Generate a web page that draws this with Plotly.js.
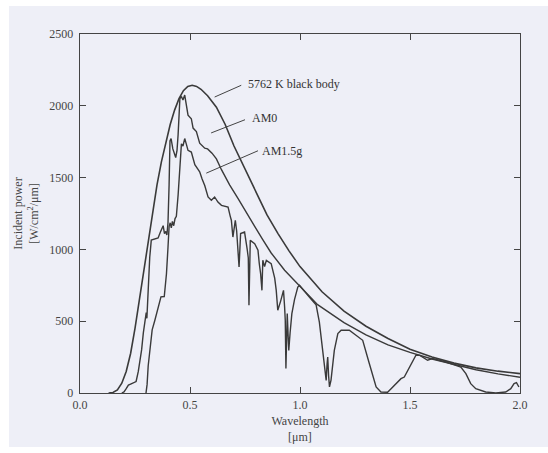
<!DOCTYPE html>
<html>
<head>
<meta charset="utf-8">
<script src="https://cdn.plot.ly/plotly-3.0.1.min.js"></script>
<style>
  html, body { margin: 0; padding: 0; background: #ffffff; width: 548px; height: 453px; overflow: hidden; }
  #chart { position: absolute; left: 9px; top: 6px; width: 539px; height: 441px; }
</style>
</head>
<body>
<div id="chart"></div>
<script>
// ---- Data ----
// 5762 K black body
const bbWavelength = [0.13,0.15,0.17,0.19,0.21,0.23,0.25,0.27,0.29,0.31,0.33,0.35,0.37,0.39,0.41,0.43,0.45,0.47,0.49,0.51,0.53,0.55,0.58,0.62,0.66,0.70,0.75,0.80,0.85,0.90,0.95,1.00,1.10,1.20,1.30,1.40,1.50,1.60,1.70,1.80,1.90,2.00];
const bbPower      = [0,4,22,68,150,275,450,650,860,1070,1270,1450,1610,1750,1870,1970,2050,2105,2135,2143,2135,2115,2070,1990,1870,1720,1560,1390,1240,1110,990,880,705,570,465,380,305,250,208,175,152,135];

// AM0 spectrum
const am0Wavelength = [0.19,0.20,0.21,0.22,0.23,0.245,0.255,0.265,0.272,0.28,0.288,0.293,0.298,0.301,0.304,0.31,0.317,0.324,0.34,0.355,0.365,0.372,0.378,0.384,0.39,0.395,0.40,0.405,0.409,0.414,0.422,0.435,0.441,0.446,0.454,0.461,0.468,0.476,0.483,0.491,0.506,0.514,0.529,0.544,0.567,0.58,0.60,0.62,0.643,0.68,0.718,0.75,0.794,0.83,0.869,0.93,1.00,1.08,1.20,1.30,1.40,1.50,1.60,1.70,1.80,1.90,2.00];
const am0Power      = [0,8,30,55,62,70,80,150,215,300,420,490,520,560,520,740,945,1065,1070,1080,1120,1150,1165,1110,1125,1100,1185,1450,1755,1772,1700,1640,1690,1800,2050,2065,2040,2075,2000,1935,1910,1845,1820,1740,1705,1700,1670,1630,1555,1450,1355,1270,1160,1070,975,855,745,615,490,405,335,283,237,197,162,133,110];

// AM1.5g spectrum
const am15Wavelength = [0.300,0.305,0.310,0.317,0.328,0.340,0.350,0.360,0.368,0.383,0.393,0.400,0.405,0.410,0.415,0.420,0.426,0.432,0.438,0.446,0.454,0.461,0.468,0.476,0.483,0.491,0.506,0.514,0.522,0.535,0.544,0.555,0.567,0.582,0.597,0.612,0.627,0.643,0.660,0.673,0.683,0.688,0.695,0.700,0.706,0.712,0.718,0.723,0.730,0.748,0.760,0.765,0.768,0.771,0.774,0.794,0.809,0.815,0.821,0.827,0.831,0.839,0.847,0.869,0.885,0.892,0.899,0.912,0.925,0.930,0.933,0.936,0.940,0.942,0.946,0.949,0.955,0.963,0.975,0.990,0.998,1.010,1.030,1.050,1.073,1.088,1.096,1.104,1.111,1.119,1.123,1.126,1.130,1.134,1.141,1.156,1.172,1.187,1.224,1.255,1.285,1.315,1.346,1.368,1.398,1.414,1.444,1.459,1.474,1.497,1.527,1.545,1.565,1.580,1.602,1.633,1.663,1.708,1.731,1.754,1.776,1.799,1.844,1.890,1.935,1.958,1.973,1.984,1.995];
const am15Power      = [0,60,190,300,440,505,570,640,670,672,830,1015,1160,1185,1150,1195,1165,1215,1230,1380,1540,1735,1720,1772,1735,1690,1678,1640,1590,1560,1540,1490,1445,1365,1342,1365,1330,1307,1300,1295,1230,1203,1086,1150,1203,1130,950,877,1110,1121,1000,940,611,900,1063,1040,994,900,831,715,924,880,924,901,800,715,576,640,715,600,506,170,450,553,400,297,420,553,650,738,750,725,690,655,615,494,390,297,228,88,200,251,120,42,90,297,414,437,437,402,367,205,42,7,5,30,77,100,111,181,263,262,240,228,240,228,216,193,181,135,65,30,7,0,7,30,65,72,42];

// Axis ticks
const xTicks = [0.0,0.5,1.0,1.5,2.0];
const xTickLabels = ['0.0','0.5','1.0','1.5','2.0'];
const yTicks = [0,500,1000,1500,2000,2500];

// Curve labels
const labelTexts = ['5762 K black body','AM0','AM1.5g'];

const lineColor = '#3a3a3a';
const bg = '#eeeff7';
const fontFam = '"Liberation Serif", "Times New Roman", serif';

const traces = [
  {x: bbWavelength, y: bbPower, mode: 'lines', line: {color: lineColor, width: 1.6}, name: labelTexts[0], hoverinfo: 'skip'},
  {x: am0Wavelength, y: am0Power, mode: 'lines', line: {color: lineColor, width: 1.4}, name: labelTexts[1], hoverinfo: 'skip'},
  {x: am15Wavelength, y: am15Power, mode: 'lines', line: {color: lineColor, width: 1.4}, name: labelTexts[2], hoverinfo: 'skip'}
];

const leaderStyle = {color: '#444', width: 1};
const layout = {
  width: 539, height: 441,
  margin: {l: 71, r: 28, t: 28, b: 54},
  paper_bgcolor: bg, plot_bgcolor: bg,
  showlegend: false,
  font: {family: fontFam, size: 12, color: '#333'},
  xaxis: {
    range: [0, 2], tickvals: xTicks, ticktext: xTickLabels,
    ticks: 'inside', ticklen: 6, tickcolor: '#444', tickwidth: 1,
    showline: true, linecolor: '#444', linewidth: 1.3, mirror: 'ticks',
    showgrid: false, zeroline: false,
    tickfont: {family: fontFam, size: 12, color: '#444'},
    title: {text: 'Wavelength<br>[μm]', font: {family: fontFam, size: 12, color: '#444'}, standoff: 6}
  },
  yaxis: {
    range: [0, 2500], tickvals: yTicks,
    ticks: 'inside', ticklen: 6, tickcolor: '#444', tickwidth: 1,
    showline: true, linecolor: '#444', linewidth: 1.3, mirror: 'ticks',
    showgrid: false, zeroline: false,
    ticklabelstandoff: 3,
    tickfont: {family: fontFam, size: 12, color: '#444'},
    title: {text: 'Incident power<br>[W/cm<sup>2</sup>/μm]', font: {family: fontFam, size: 12, color: '#444'}, standoff: 8}
  },
  shapes: [
    {type: 'line', xref: 'x', yref: 'y', x0: 0.612, y0: 2061, x1: 0.733, y1: 2143, line: leaderStyle},
    {type: 'line', xref: 'x', yref: 'y', x0: 0.596, y0: 1811, x1: 0.750, y1: 1903, line: leaderStyle},
    {type: 'line', xref: 'x', yref: 'y', x0: 0.574, y0: 1531, x1: 0.809, y1: 1687, line: leaderStyle}
  ],
  annotations: [
    {x: 0.755, y: 2153, xref: 'x', yref: 'y', text: labelTexts[0], showarrow: false, xanchor: 'left', yanchor: 'middle', font: {family: fontFam, size: 12, color: '#333'}},
    {x: 0.771, y: 1916, xref: 'x', yref: 'y', text: labelTexts[1], showarrow: false, xanchor: 'left', yanchor: 'middle', font: {family: fontFam, size: 12, color: '#333'}},
    {x: 0.816, y: 1683, xref: 'x', yref: 'y', text: labelTexts[2], showarrow: false, xanchor: 'left', yanchor: 'middle', font: {family: fontFam, size: 12, color: '#333'}}
  ]
};

Plotly.newPlot('chart', traces, layout, {displayModeBar: false, staticPlot: true});
</script>
</body>
</html>
